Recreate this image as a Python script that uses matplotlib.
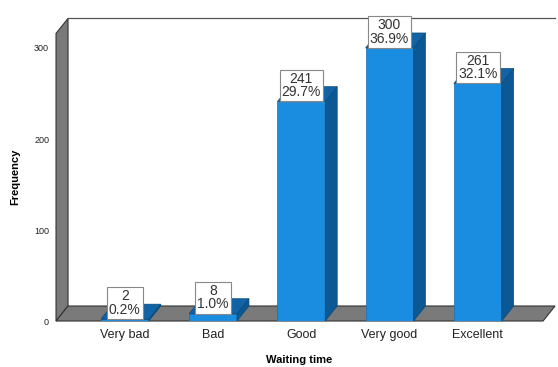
import matplotlib.pyplot as plt
from matplotlib.patches import Polygon

plt.rcParams['font.family'] = ['Liberation Sans', 'DejaVu Sans']

categories = ['Very bad', 'Bad', 'Good', 'Very good', 'Excellent']
counts = [2, 8, 241, 300, 261]
yticks = [0, 100, 200, 300]

total = sum(counts)
percents = [100.0 * c / total for c in counts]

front = '#1a8de0'
side = '#0c5894'
top = '#1262a6'
wall = '#7a7a7a'
edge = '#333333'

fig = plt.figure(figsize=(5.58, 3.67), dpi=100)
ax = fig.add_axes([0.1004, 0.1253, 0.8728, 0.7836])

x0, x1 = -0.78, 4.74
y1 = 316
ax.set_xlim(x0, x1)
ax.set_ylim(0, y1)

# depth offset of the 3D effect, in data units
dx, dy = 0.136, 16.5

# left wall and floor
ax.add_patch(Polygon([(x0, 0), (x0, y1), (x0 + dx, y1 + dy), (x0 + dx, dy)],
                     closed=True, fc=wall, ec=edge, lw=0.8, clip_on=False, zorder=1))
ax.add_patch(Polygon([(x0, 0), (x1, 0), (x1 + dx, dy), (x0 + dx, dy)],
                     closed=True, fc=wall, ec=edge, lw=0.8, clip_on=False, zorder=1))
# back wall top edge
ax.plot([x0 + dx, x1 + dx], [y1 + dy, y1 + dy], color='#555555', lw=0.9,
        clip_on=False, zorder=1)

w = 0.542
xs = list(range(len(categories)))
ax.bar(xs, counts, width=w, color=front, edgecolor='#1670b8', lw=0.5, zorder=3)
for x, v in zip(xs, counts):
    r = x + w / 2
    l = x - w / 2
    ax.add_patch(Polygon([(r, 0), (r, v), (r + dx, v + dy), (r + dx, dy)],
                         closed=True, fc=side, ec='#0a4a7c', lw=0.5,
                         clip_on=False, zorder=3))
    ax.add_patch(Polygon([(l, v), (r, v), (r + dx, v + dy), (l + dx, v + dy)],
                         closed=True, fc=top, ec='#0a4a7c', lw=0.5,
                         clip_on=False, zorder=3))

for x, v, p in zip(xs, counts, percents):
    ax.text(x, v + 2.5, f'{v}\n{p:.1f}%', ha='center', va='bottom', fontsize=10,
            color='#333333', linespacing=0.95, zorder=5,
            bbox=dict(boxstyle='square,pad=0.15', fc='white', ec='#888888', lw=0.8))

for s in ax.spines.values():
    s.set_visible(False)
ax.set_xticks(xs)
ax.set_xticklabels(categories, fontsize=9, color='#222222')
ax.set_yticks(yticks)
ax.set_yticklabels([str(t) for t in yticks], fontsize=6.5, color='#222222')
ax.tick_params(axis='x', length=0, pad=6)
ax.tick_params(axis='y', length=0, pad=5)
ax.set_xlabel('Waiting time', fontsize=8, fontweight='bold', labelpad=10)
ax.set_ylabel('Frequency', fontsize=8, fontweight='bold', labelpad=10)

fig.savefig('out.png', dpi=100, facecolor='white')
